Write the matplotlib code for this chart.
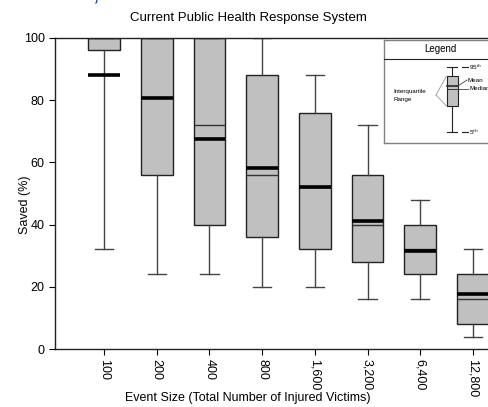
"""Box plot: saved (%) by event size, current public health response system"""
import matplotlib
matplotlib.use("Agg")
import matplotlib.pyplot as plt

plt.rcParams['font.family'] = ['Liberation Sans', 'DejaVu Sans']

event_sizes = ["100", "200", "400", "800", "1,600", "3,200", "6,400", "12,800"]
p05    = [32, 24, 24, 20, 20, 16, 16, 4]
q1     = [96, 56, 40, 36, 32, 28, 24, 8]
median = [100, 100, 72, 56, 52, 40, 32, 16]
mean   = [88, 80.7, 67.6, 58.3, 52.1, 41.3, 31.6, 17.6]
q3     = [100, 100, 100, 88, 76, 56, 40, 24]
p95    = [100, 100, 100, 100, 88, 72, 48, 32]

W, H = 488, 407
fig = plt.figure(figsize=(W/100, H/100), dpi=100)
ax = fig.add_axes([55/W, 1-349/H, 1-55/W, (349-38)/H])

stats = []
for i in range(len(event_sizes)):
    stats.append(dict(whislo=p05[i], q1=q1[i], med=median[i], mean=mean[i],
                      q3=q3[i], whishi=p95[i], fliers=[]))

ax.bxp(stats, positions=range(1, len(stats)+1), widths=0.6, capwidths=0.35,
       patch_artist=True, showmeans=True, meanline=True,
       boxprops=dict(facecolor='#c0c0c0', edgecolor='#222222', linewidth=1),
       whiskerprops=dict(color='#444444', linewidth=1),
       capprops=dict(color='#444444', linewidth=1),
       medianprops=dict(color='#333333', linewidth=1),
       meanprops=dict(color='black', linestyle='-', linewidth=2.6))

ax.set_xlim(0.07, 8.285)
ax.set_ylim(0, 100)
ax.set_yticks([0, 20, 40, 60, 80, 100])
ax.set_xticks(range(1, len(event_sizes)+1))
ax.set_xticklabels(event_sizes, rotation=270, fontsize=9)
ax.tick_params(axis='y', labelsize=9, length=4, direction='out')
ax.tick_params(axis='x', length=4, direction='out', pad=3)
ax.spines['right'].set_visible(False)
for s in ['left', 'bottom', 'top']:
    ax.spines[s].set_color('#222222')
    ax.spines[s].set_linewidth(1)

ax.set_ylabel("Saved (%)", fontsize=9)
ax.yaxis.set_label_coords(-24/(W-55), 1-(205-38)/(349-38))
fig.text(248/W, 1-398/H, "Event Size (Total Number of Injured Victims)",
         ha='center', va='center', fontsize=9)
fig.text(248/W, 1-18/H, "Current Public Health Response System",
         ha='center', va='center', fontsize=9.5)
# cropped slide title above the chart
fig.text(238/W, 1-6/H, "Frequencies, Associated Resources and Results",
         ha='center', va='bottom', fontsize=20, color='#1f4e9c')

# hand-drawn legend panel in pixel coordinates
ov = fig.add_axes([0, 0, 1, 1], facecolor='none')
ov.set_xlim(0, W); ov.set_ylim(H, 0); ov.axis('off')
ov.fill([384, 495, 495, 384], [40, 40, 143, 143], color='white', zorder=1)
ov.plot([384, 495], [40, 40], color='#808080', lw=1, zorder=2)
ov.plot([384, 384], [40, 143], color='#808080', lw=1, zorder=2)
ov.plot([384, 495], [143, 143], color='#808080', lw=1, zorder=2)
ov.plot([384, 495], [58.5, 58.5], color='#222222', lw=0.8, zorder=2)
ov.text(440, 49.5, "Legend", ha='center', va='center', fontsize=7, zorder=3)
bx = 452
ov.plot([bx, bx], [67, 132], color='#222222', lw=0.8, zorder=2)
ov.plot([bx-5, bx+5], [67, 67], color='#222222', lw=0.8, zorder=2)
ov.plot([bx-5, bx+5], [132, 132], color='#222222', lw=0.8, zorder=2)
ov.fill([446.5, 458, 458, 446.5], [76, 76, 106, 106], facecolor='#c0c0c0',
        edgecolor='#222222', lw=0.8, zorder=3)
ov.plot([446.5, 458], [86, 86], color='#333333', lw=1.3, zorder=4)
ov.plot([446.5, 458], [88.5, 88.5], color='#333333', lw=0.7, zorder=4)
ov.plot([462, 468], [67, 67], color='#222222', lw=0.8)
ov.plot([462, 468], [132, 132], color='#222222', lw=0.8)
ov.plot([458, 467], [86, 80], color='#444444', lw=0.6)
ov.plot([458, 468], [88.5, 88.5], color='#444444', lw=0.6)
ov.text(469, 67, "95$^{th}$", fontsize=4.5, va='center')
ov.text(469, 132, "5$^{th}$", fontsize=4.5, va='center')
ov.text(468, 80, "Mean", fontsize=4.5, va='center')
ov.text(469, 89, "Median", fontsize=4.5, va='center')
ov.text(393, 91, "Interquartile", fontsize=4.5, va='center')
ov.text(393, 99, "Range", fontsize=4.5, va='center')
ov.plot([436, 446.5], [95, 76], color='#999999', lw=0.6)
ov.plot([436, 446.5], [95, 106], color='#999999', lw=0.6)

fig.savefig("out.png", dpi=100)
